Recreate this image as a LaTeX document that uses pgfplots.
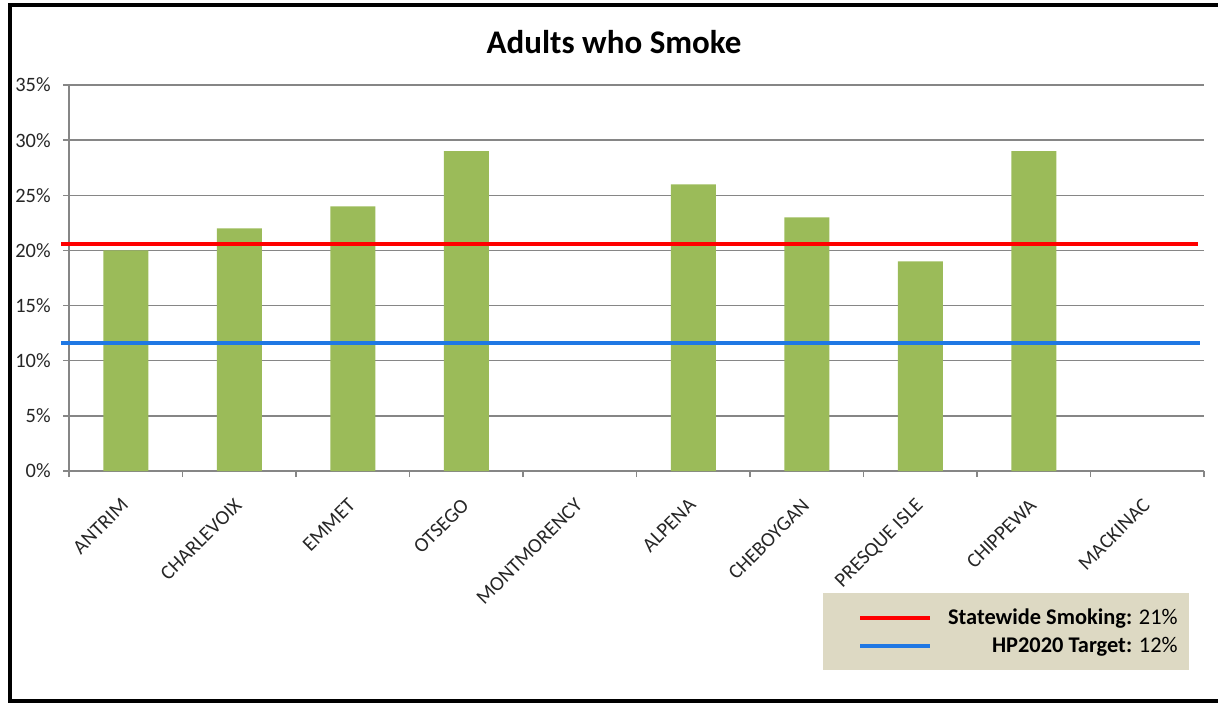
\documentclass[border=0pt]{standalone}
\usepackage{pgfplots}
\pgfplotsset{compat=1.18}
\usepackage{fontspec}
\setmainfont{Carlito}
\definecolor{bargreen}{HTML}{9BBB59}
\definecolor{gridgray}{HTML}{868686}
\definecolor{legbg}{HTML}{DDD9C3}
\definecolor{lineblue}{HTML}{1F78E4}
\begin{document}
\begin{tikzpicture}
\useasboundingbox (0,0) rectangle (609bp,351.5bp);
\draw[black, line width=2bp] (609bp,349bp) -- (4.75bp,349bp) -- (4.75bp,1bp) -- (609bp,1bp);
\node[font=\fontsize{16.5bp}{20bp}\selectfont\bfseries] at (307bp,330.5bp) {Adults who Smoke};
\begin{axis}[
  at={(34.5bp,116bp)}, anchor=south west,
  scale only axis, width=567.5bp, height=193bp,
  xmin=-0.5, xmax=9.5, ymin=0, ymax=35,
  axis x line*=bottom, axis y line*=left,
  axis line style={gridgray, line width=0.75bp},
  ymajorgrids, grid style={gridgray, line width=0.75bp},
  ytick={0,5,...,35},
  yticklabels={0\%,5\%,10\%,15\%,20\%,25\%,30\%,35\%},
  xtick={0,...,9},
  xticklabels={ANTRIM,CHARLEVOIX,EMMET,OTSEGO,MONTMORENCY,ALPENA,CHEBOYGAN,PRESQUE ISLE,CHIPPEWA,MACKINAC},
  minor xtick={-0.5,0.5,...,9.5},
  tick align=outside,
  major x tick style={draw=none},
  minor x tick style={gridgray, line width=0.75bp},
  y tick style={gridgray, line width=0.75bp},
  major tick length=3bp, minor tick length=3bp,
  tick label style={font=\fontsize{10.2bp}{12bp}\selectfont, text=black!85},
  yticklabel style={inner sep=0pt, xshift=-6bp},
  xticklabel style={rotate=45, anchor=north east, inner sep=0pt, yshift=-5bp, xshift=-9bp},
  clip=false,
  legend style={at={(0.9868,-0.316)}, anchor=north east, fill=legbg, draw=none,
    font=\fontsize{11.2bp}{13bp}\selectfont, inner xsep=3.5bp, inner ysep=5.5bp,
    row sep=1bp},
  legend cell align=right,
  legend image code/.code={\path (0bp,0bp) (55bp,0bp); \draw[#1] (14bp,0bp) -- (49bp,0bp);},
]
\addplot[ybar, bar width=22.5bp, fill=bargreen, draw=none, forget plot]
  coordinates {(0,20) (1,22) (2,24) (3,29) (5,26) (6,23) (7,19) (8,29)};
\addplot[red, line width=2bp] coordinates {(-0.57,20.6) (9.447,20.6)};
\addlegendentry{\textbf{Statewide Smoking:} 21\%}
\addplot[lineblue, line width=2bp] coordinates {(-0.57,11.6) (9.465,11.6)};
\addlegendentry{\textbf{HP2020 Target:} 12\%}
\end{axis}
\end{tikzpicture}
\end{document}
